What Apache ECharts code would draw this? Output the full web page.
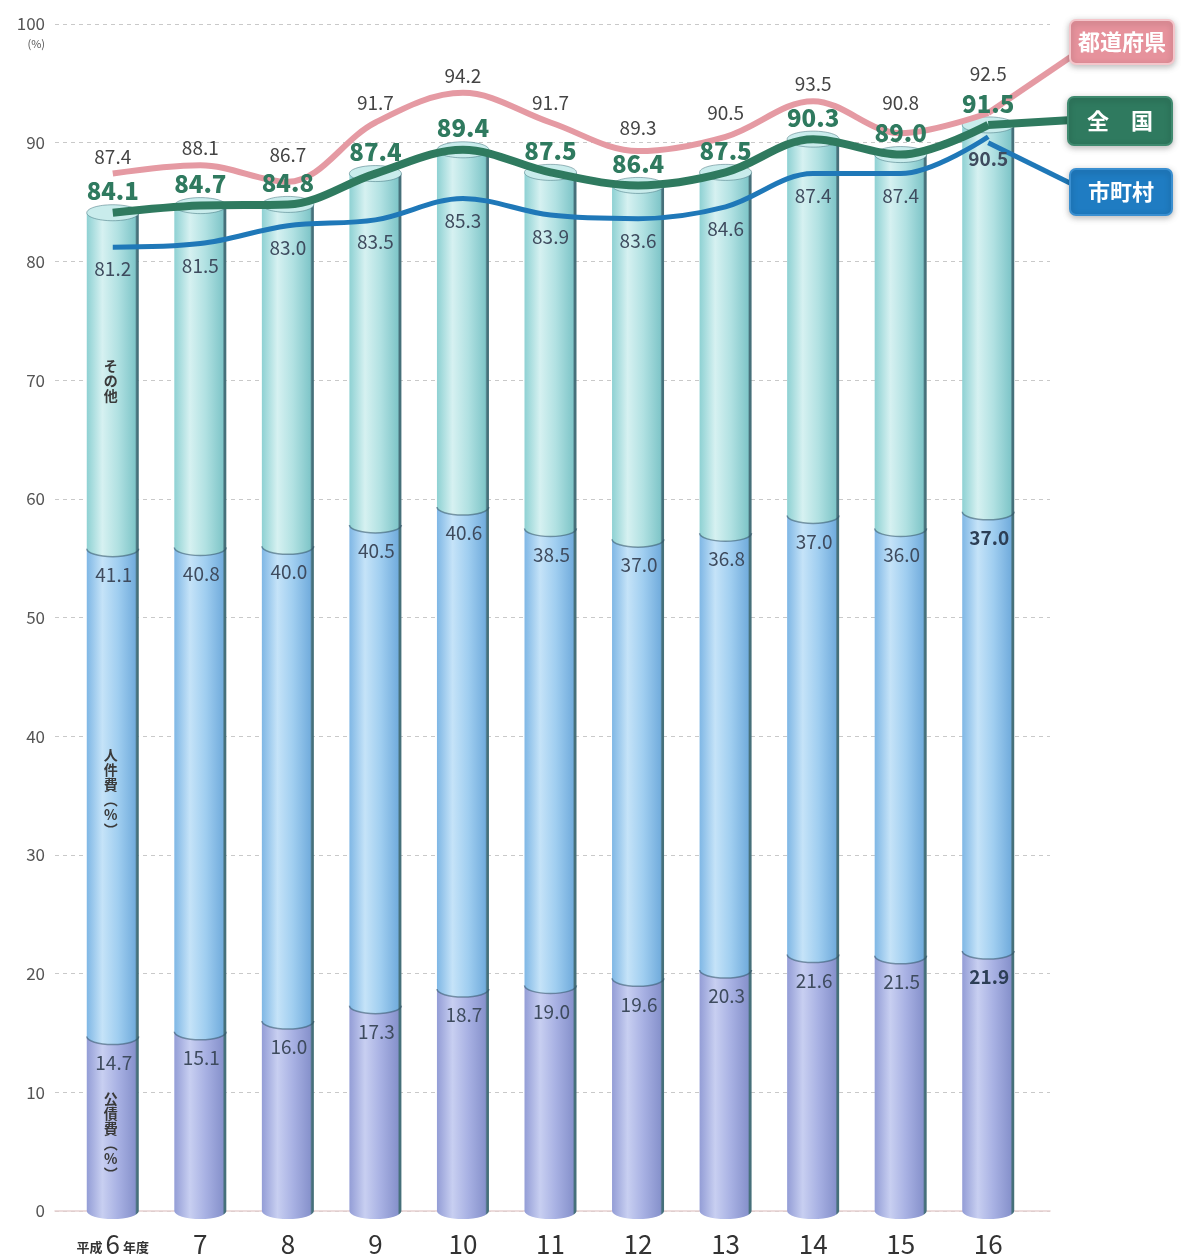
<!DOCTYPE html>
<html>
<head>
<meta charset="utf-8">
<script src="https://cdn.jsdelivr.net/npm/echarts@6/dist/echarts.min.js"></script>
<style>
  html, body { margin: 0; padding: 0; background: #ffffff; }
  #chart { width: 1181px; height: 1257px; }
</style>
</head>
<body>
<div id="chart"></div>
<script>
// 経常収支比率の推移（平成6年度〜16年度）
const years = ['平成6年度', '7', '8', '9', '10', '11', '12', '13', '14', '15', '16'];
const debtService = [14.7, 15.1, 16.0, 17.3, 18.7, 19.0, 19.6, 20.3, 21.6, 21.5, 21.9];   // 公債費
const personnel = [41.1, 40.8, 40.0, 40.5, 40.6, 38.5, 37.0, 36.8, 37.0, 36.0, 37.0];     // 人件費
const national = [84.1, 84.7, 84.8, 87.4, 89.4, 87.5, 86.4, 87.5, 90.3, 89.0, 91.5];      // 全国
const prefectures = [87.4, 88.1, 86.7, 91.7, 94.2, 91.7, 89.3, 90.5, 93.5, 90.8, 92.5];   // 都道府県
const municipalities = [81.2, 81.5, 83.0, 83.5, 85.3, 83.9, 83.6, 84.6, 87.4, 87.4, 90.5]; // 市町村
const yTicks = [0, 10, 20, 30, 40, 50, 60, 70, 80, 90, 100];
const segmentNames = ['公\n債\n費\n︵\n%\n︶', '人\n件\n費\n︵\n%\n︶', 'そ\nの\n他'];

const FONT = '"Noto Sans CJK JP", "Noto Sans", sans-serif';
const last = years.length - 1;

// upward nudges (px) for the 都道府県 labels so they clear the 全国 labels
const prefLabelLift = [0, 0, 10, 3, 0, 3, 6, 7, 0, 13, 22];

// cylinder colours per segment: [edge, highlight, base, shade]
const palettes = [
  ['#939dd6', '#c8cff1', '#a8b1e3', '#8792cc'],
  ['#7fb7e5', '#c5e3f8', '#a0cef0', '#73addd'],
  ['#8ed1d3', '#d6f1f1', '#b1e1e2', '#80c6c9']
];
const rimColor = '#46707a';

function cylFill(p) {
  return {
    type: 'linear', x: 0, y: 0, x2: 1, y2: 0,
    colorStops: [
      { offset: 0, color: p[0] },
      { offset: 0.3, color: p[1] },
      { offset: 0.6, color: p[2] },
      { offset: 0.93, color: p[3] },
      { offset: 0.96, color: rimColor },
      { offset: 1, color: rimColor }
    ]
  };
}

function renderCylinder(params, api) {
  const i = api.value(0);
  const d = api.value(1), p = api.value(2), t = api.value(3);
  const bounds = [0, d, d + p, t];
  const x = api.coord([i, 0])[0];
  const w = 52, rx = w / 2, ry = 8;
  const x0 = x - rx, x1 = x + rx;
  const children = [];
  for (let s = 0; s < 3; s++) {
    const yb = api.coord([i, bounds[s]])[1];
    const yt = api.coord([i, bounds[s + 1]])[1];
    const fill = cylFill(palettes[s]);
    children.push({
      type: 'path',
      shape: { pathData: `M${x0} ${yt} L${x1} ${yt} L${x1} ${yb} A${rx} ${ry} 0 0 1 ${x0} ${yb} Z` },
      style: { fill: fill }
    });
    if (s > 0) {
      children.push({
        type: 'path',
        shape: { pathData: `M${x1} ${yb} A${rx} ${ry} 0 0 1 ${x0} ${yb}` },
        style: { fill: null, stroke: 'rgba(50,80,100,0.55)', lineWidth: 1.5 }
      });
    }
    if (s === 2) {
      children.push({
        type: 'ellipse',
        shape: { cx: x, cy: yt, rx: rx, ry: ry },
        style: { fill: '#c9ecec', stroke: 'rgba(60,110,120,0.5)', lineWidth: 1 }
      });
    }
    if (i === 0) {
      const ym = (yb + yt) / 2 + (s === 0 ? 12 : 0);
      children.push({
        type: 'text',
        style: {
          text: segmentNames[s], x: x - 2, y: ym,
          align: 'center', verticalAlign: 'middle',
          font: `bold 14px ${FONT}`, fill: '#3a3a3a', lineHeight: 15
        }
      });
    }
  }
  // value labels at the top of 公債費 and 人件費
  const labelVals = [d, p];
  const labelTops = [d, d + p];
  for (let s = 0; s < 2; s++) {
    const y = api.coord([i, labelTops[s]])[1] + 26;
    children.push({
      type: 'text',
      style: {
        text: labelVals[s].toFixed(1), x: x + 1, y: y,
        align: 'center', verticalAlign: 'middle',
        font: `${i === last ? 'bold ' : ''}19px ${FONT}`,
        fill: i === last ? '#2c3e55' : '#3e4b5e'
      }
    });
  }
  return { type: 'group', children: children };
}

const cylinderData = years.map((_, i) => [i, debtService[i], personnel[i], national[i]]);
const prefData = prefectures.map((v, i) => ({ value: v, label: { offset: [0, -prefLabelLift[i]] } }));
const cityData = municipalities.map((v, i) => i === last ? { value: v, label: { fontWeight: 'bold' } } : v);

const chart = echarts.init(document.getElementById('chart'), null, { renderer: 'canvas' });

// invisible point markers so that every point carries its value label
const hiddenPoint = { symbol: 'circle', symbolSize: 1, showSymbol: true, itemStyle: { color: 'rgba(0,0,0,0)' } };
const oneDecimal = p => Number(p.value).toFixed(1);

chart.setOption({
  animation: false,
  backgroundColor: '#ffffff',
  grid: [
    { left: 55, right: 131, top: 24, bottom: 46 },
    { left: 69, right: 149, top: 24, bottom: 46 }
  ],
  xAxis: [
    {
      gridIndex: 0, type: 'value', min: 0, max: 1,
      axisLine: { show: true, lineStyle: { color: '#e6cfcf', width: 1.5 } },
      axisTick: { show: false }, axisLabel: { show: false }, splitLine: { show: false }
    },
    {
      gridIndex: 1, type: 'category', data: years,
      axisLine: { show: false }, axisTick: { show: false },
      axisLabel: {
        interval: 0, margin: 20, color: '#333', fontFamily: FONT, fontSize: 26,
        formatter: v => v.startsWith('平成')
          ? '{s|平成}{b|' + v.replace('平成', '').replace('年度', '') + '}{s|年度}'
          : '{b|' + v + '}',
        rich: {
          s: { fontSize: 13, fontFamily: FONT, color: '#333', fontWeight: 'bold', padding: [6, 3, 0, 3] },
          b: { fontSize: 26, fontFamily: FONT, color: '#333' }
        }
      }
    }
  ],
  yAxis: [
    {
      gridIndex: 0, type: 'value', min: yTicks[0], max: yTicks[yTicks.length - 1], interval: 10,
      axisLine: { show: false }, axisTick: { show: false },
      axisLabel: { margin: 10, color: '#555', fontSize: 17, fontFamily: FONT },
      splitLine: { show: true, lineStyle: { color: '#c9c9c9', type: [4, 4], width: 1 } }
    },
    {
      gridIndex: 1, type: 'value', min: 0, max: 100, interval: 10,
      axisLine: { show: false }, axisTick: { show: false },
      axisLabel: { show: false }, splitLine: { show: false }
    }
  ],
  series: [
    {
      name: '内訳', type: 'custom', xAxisIndex: 1, yAxisIndex: 1,
      renderItem: renderCylinder, data: cylinderData, z: 2
    },
    Object.assign({
      name: '都道府県', type: 'line', xAxisIndex: 1, yAxisIndex: 1, data: prefData,
      smooth: 0.35, z: 5,
      lineStyle: { color: '#e59aa3', width: 6 },
      label: { show: true, position: 'top', distance: 7, color: '#444', fontSize: 19, fontFamily: FONT, formatter: oneDecimal }
    }, hiddenPoint),
    Object.assign({
      name: '全国', type: 'line', xAxisIndex: 1, yAxisIndex: 1, data: national,
      smooth: 0.35, z: 6,
      lineStyle: { color: '#2f7a5f', width: 8 },
      label: { show: true, position: 'top', distance: 9, color: '#2f7a5f', fontSize: 24, fontWeight: 900, fontFamily: FONT, formatter: oneDecimal }
    }, hiddenPoint),
    Object.assign({
      name: '市町村', type: 'line', xAxisIndex: 1, yAxisIndex: 1, data: cityData,
      smooth: 0.35, z: 7,
      lineStyle: { color: '#1f78b8', width: 5 },
      label: { show: true, position: 'bottom', distance: 12, color: '#3e4b5e', fontSize: 19, fontFamily: FONT, formatter: oneDecimal }
    }, hiddenPoint)
  ]
});

// legend tags on the right, tied to the last point of each line
const px = (i, v) => chart.convertToPixel({ xAxisIndex: 1, yAxisIndex: 1 }, [i, v]);
const pEnd = px(last, prefectures[last]);
const nEnd = px(last, national[last]);
const cEnd = px(last, municipalities[last]);
const pctAnchor = chart.convertToPixel({ xAxisIndex: 0, yAxisIndex: 0 }, [0, 100]);

function tag(x, y, w, h, color, text, border) {
  return [
    {
      type: 'rect', z: 20,
      shape: { x: x, y: y, width: w, height: h, r: 6 },
      style: { fill: color, stroke: border, lineWidth: 2, shadowBlur: 6, shadowColor: 'rgba(0,0,0,0.25)', shadowOffsetY: 2 }
    },
    {
      type: 'text', z: 21,
      style: { text: text, x: x + w / 2, y: y + h / 2, align: 'center', verticalAlign: 'middle',
        font: `bold 22px ${FONT}`, fill: '#ffffff' }
    }
  ];
}

chart.setOption({
  graphic: [
    {
      type: 'text', z: 10,
      style: { text: '(%)', x: pctAnchor[0] - 10, y: pctAnchor[1] + 20, align: 'right', verticalAlign: 'middle',
        font: `11px ${FONT}`, fill: '#555' }
    },
    { type: 'line', z: 4, shape: { x1: pEnd[0], y1: pEnd[1], x2: 1078, y2: 52 }, style: { stroke: '#e59aa3', lineWidth: 6 } },
    { type: 'line', z: 4, shape: { x1: nEnd[0], y1: nEnd[1], x2: 1072, y2: 120 }, style: { stroke: '#2f7a5f', lineWidth: 8 } },
    { type: 'line', z: 4, shape: { x1: cEnd[0], y1: cEnd[1] + 6, x2: 1076, y2: 186 }, style: { stroke: '#1f78b8', lineWidth: 5 } },
    ...tag(1070, 20, 104, 44, '#e6929c', '都道府県', '#f4c6cb'),
    ...tag(1068, 97, 104, 48, '#2f7a5f', '全　国', '#3f8a6f'),
    ...tag(1070, 169, 102, 46, '#1f7cc2', '市町村', '#3a8fd0')
  ]
});
</script>
</body>
</html>
